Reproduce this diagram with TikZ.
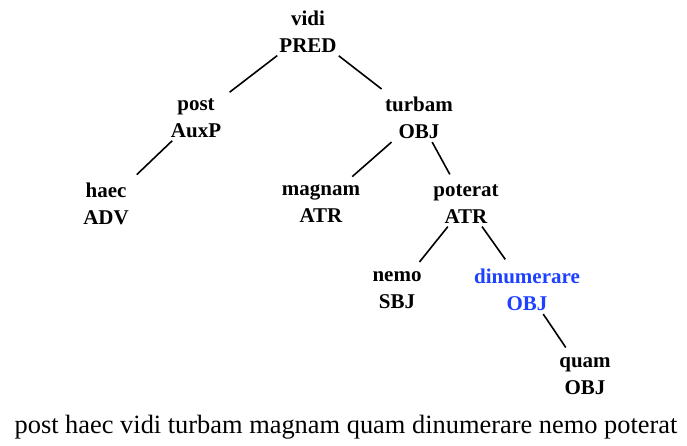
\documentclass[tikz,border=0pt]{standalone}
\usepackage{fontspec}
\setmainfont{Liberation Serif}
\definecolor{hlblue}{RGB}{30,64,255}
\tikzset{
  tn/.style={align=center, inner xsep=2pt, inner ysep=3pt, font=\fontsize{21}{27}\selectfont\bfseries},
  hl/.style={text=hlblue},
  edge/.style={draw=black, line width=1.6pt, shorten >=8pt},
  sent/.style={anchor=base, inner sep=0pt, font=\fontsize{26.4}{30}\selectfont}
}
\begin{document}
\begin{tikzpicture}[x=1pt,y=-1pt]
\useasboundingbox (0,0) rectangle (687,446);
\node[tn] (vidi) at (308,32) {vidi\\PRED};
\node[tn] (post) at (196,118) {post\\AuxP};
\node[tn] (turbam) at (419,118) {turbam\\OBJ};
\node[tn] (haec) at (106,204) {haec\\ADV};
\node[tn] (magnam) at (321,204) {magnam\\ATR};
\node[tn] (poterat) at (466,204) {poterat\\ATR};
\node[tn] (nemo) at (397,290) {nemo\\SBJ};
\node[tn,hl] (dinumerare) at (527,290) {dinumerare\\OBJ};
\node[tn] (quam) at (585,376) {quam\\OBJ};
\draw[edge] (vidi) -- (post);
\draw[edge] (vidi) -- (turbam);
\draw[edge] (post) -- (haec);
\draw[edge] (turbam) -- (magnam);
\draw[edge] (turbam) -- (poterat);
\draw[edge] (poterat) -- (nemo);
\draw[edge] (poterat) -- (dinumerare);
\draw[edge] (dinumerare) -- (quam);
\node[sent] (sentence) at (346,433) {post haec vidi turbam magnam quam dinumerare nemo poterat};
\end{tikzpicture}
\end{document}
